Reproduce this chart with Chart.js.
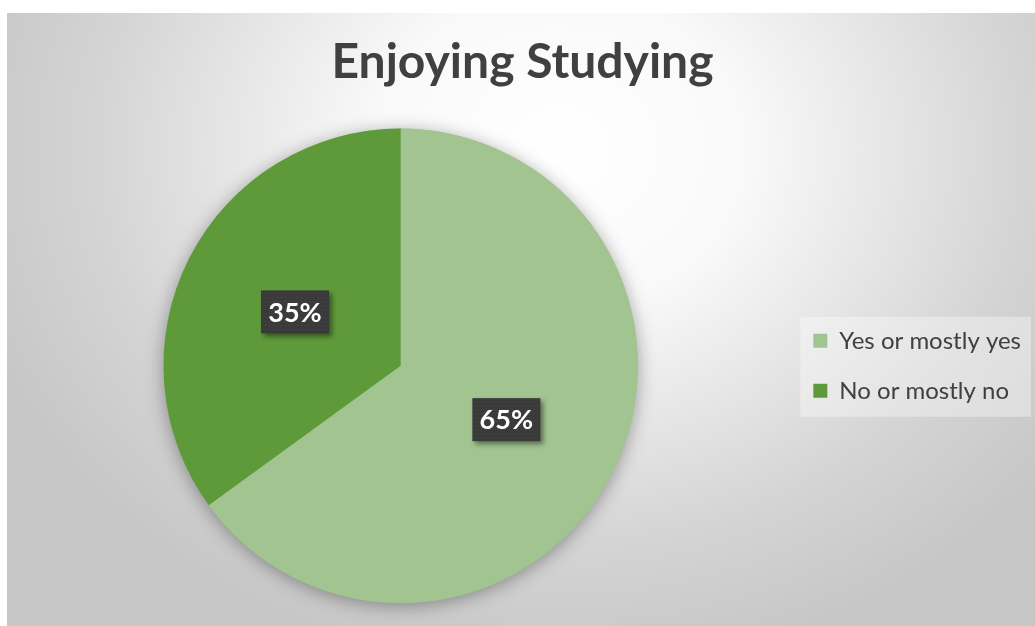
<!DOCTYPE html>
<html><head><meta charset="utf-8">
<script src="https://cdn.jsdelivr.net/npm/chart.js@4.4.1/dist/chart.umd.min.js"></script>
<style>html,body{margin:0;padding:0;background:#fff;overflow:hidden;} canvas{display:block;}</style>
</head><body>
<canvas id="c" width="1035" height="626"></canvas>
<script>
const categories = ['Yes or mostly yes', 'No or mostly no'];
const values = [65, 35];
const colors = ['#a1c490', '#5f9a3a'];
const titleText = 'Enjoying Studying';

const bgPlugin = {
  id: 'bg',
  beforeDraw(chart) {
    const ctx = chart.ctx;
    ctx.save();
    ctx.fillStyle = '#ffffff';
    ctx.fillRect(0, 0, chart.width, chart.height);
    ctx.beginPath();
    ctx.rect(7, 13, chart.width - 7, chart.height - 13);
    ctx.clip();
    ctx.translate(560, 150);
    ctx.scale(1, 0.85);
    const g = ctx.createRadialGradient(0, 0, 0, 0, 0, 620);
    g.addColorStop(0, '#ffffff');
    g.addColorStop(0.3, '#f9f9f9');
    g.addColorStop(0.75, '#d4d4d4');
    g.addColorStop(1, '#c6c6c6');
    ctx.fillStyle = g;
    ctx.fillRect(-2000, -2000, 4000, 4000);
    ctx.restore();
    // legend panel
    const lg = chart.legend;
    if (lg && lg.legendHitBoxes && lg.legendHitBoxes.length) {
      const hb = lg.legendHitBoxes;
      const x0 = Math.min(...hb.map(h => h.left)) - 13;
      const x1 = Math.max(...hb.map(h => h.left + h.width)) + 10;
      const y0 = hb[0].top - 12;
      const y1 = hb[hb.length - 1].top + hb[hb.length - 1].height + 14;
      ctx.save();
      ctx.fillStyle = 'rgba(255,255,255,0.35)';
      ctx.fillRect(x0, y0, x1 - x0, y1 - y0);
      ctx.restore();
    }
  }
};

const shadowPlugin = {
  id: 'pieShadow',
  beforeDatasetsDraw(chart) {
    const arc = chart.getDatasetMeta(0).data[0];
    if (!arc) return;
    const ctx = chart.ctx;
    ctx.save();
    ctx.shadowColor = 'rgba(0,0,0,0.35)';
    ctx.shadowBlur = 18;
    ctx.shadowOffsetX = 0;
    ctx.shadowOffsetY = 3;
    ctx.fillStyle = colors[0];
    ctx.beginPath();
    ctx.arc(arc.x, arc.y, arc.outerRadius, 0, Math.PI * 2);
    ctx.fill();
    ctx.restore();
  }
};

function makePattern(ctx) {
  const p = document.createElement('canvas');
  p.width = 4; p.height = 4;
  const pc = p.getContext('2d');
  pc.fillStyle = '#3a3a3a';
  pc.fillRect(0, 0, 4, 4);
  pc.fillStyle = '#4a4a4a';
  pc.fillRect(1, 1, 1, 1);
  return ctx.createPattern(p, 'repeat');
}

const labelPlugin = {
  id: 'pctLabels',
  afterDatasetsDraw(chart) {
    const ctx = chart.ctx;
    const ds = chart.data.datasets[0];
    const total = ds.data.reduce((a, b) => a + b, 0);
    const pat = makePattern(ctx);
    chart.getDatasetMeta(0).data.forEach((arc, i) => {
      const pos = arc.tooltipPosition();
      const txt = Math.round(ds.data[i] / total * 100) + '%';
      const w = 68, h = 43;
      ctx.save();
      ctx.shadowColor = 'rgba(0,0,0,0.45)';
      ctx.shadowBlur = 5;
      ctx.shadowOffsetX = 3;
      ctx.shadowOffsetY = 3;
      ctx.fillStyle = pat;
      ctx.fillRect(pos.x - w / 2, pos.y - h / 2, w, h);
      ctx.restore();
      ctx.save();
      ctx.fillStyle = '#ffffff';
      ctx.font = 'bold 27px Lato';
      ctx.textAlign = 'center';
      ctx.textBaseline = 'middle';
      ctx.fillText(txt, pos.x, pos.y + 1);
      ctx.restore();
    });
  }
};

new Chart(document.getElementById('c'), {
  type: 'pie',
  data: {
    labels: categories,
    datasets: [{ data: values, backgroundColor: colors, borderWidth: 0 }]
  },
  options: {
    responsive: false,
    animation: false,
    layout: { padding: { left: 14, right: 4, top: 13, bottom: 23 } },
    plugins: {
      title: {
        display: true, text: titleText, color: '#404040',
        font: { family: 'Lato', size: 48, weight: 'bold', lineHeight: 1.2 },
        padding: { top: 21, bottom: 37 }
      },
      legend: {
        position: 'right',
        fullSize: false,
        labels: {
          boxWidth: 14, boxHeight: 14, padding: 26, color: '#404040',
          font: { family: 'Lato', size: 24 }
        }
      },
      tooltip: { enabled: false }
    }
  },
  plugins: [bgPlugin, shadowPlugin, labelPlugin]
});
</script>
</body></html>
